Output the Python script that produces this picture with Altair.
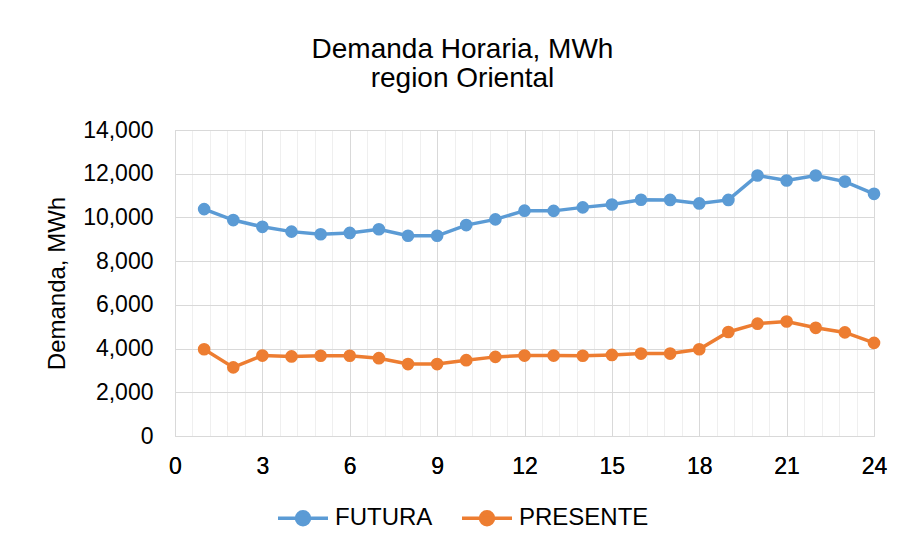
import altair as alt
import pandas as pd

hours = list(range(1, 25))
futura = [10380, 9880, 9570, 9350, 9230, 9290, 9460, 9160, 9160, 9650, 9910, 10310,
          10300, 10460, 10590, 10810, 10800, 10640, 10800, 11920, 11690, 11920, 11640, 11080]
presente = [3970, 3140, 3680, 3640, 3670, 3670, 3560, 3290, 3290, 3470, 3620, 3680,
            3680, 3670, 3710, 3770, 3770, 3970, 4760, 5140, 5240, 4950, 4740, 4260]
series = ["FUTURA", "PRESENTE"]
colors = ["#5B9BD5", "#ED7D31"]
x_ticks = list(range(0, 25, 3))
y_ticks = list(range(0, 14001, 2000))
minor_ticks = [round(i * 0.6, 1) for i in range(41) if i % 5]

df = pd.DataFrame({
    "hora": hours * 2,
    "demanda": futura + presente,
    "serie": [series[0]] * 24 + [series[1]] * 24,
})

FONT = "Liberation Sans"
xscale = alt.Scale(domain=[0, 24], nice=False, zero=False)
yscale = alt.Scale(domain=[0, 14000], nice=False)

yaxis = alt.Axis(values=y_ticks, format=",d", grid=True, gridColor="#D9D9D9", domain=False,
                 ticks=False, labelPadding=22, labelFontSize=23, labelFont=FONT, labelColor="#000000",
                 title="Demanda, MWh", titleFont=FONT, titleFontSize=24, titleFontWeight="normal",
                 titleColor="#000000", titleX=-118, titleY=153, titleAngle=270, titleBaseline="middle",
                 titleAlign="center")

legend_path = "M-1,0L1,0M-0.26,0A0.26,0.26,0,1,0,0.26,0A0.26,0.26,0,1,0,-0.26,0Z"
legend = alt.Legend(title=None, orient="none", direction="horizontal", legendX=101, legendY=361,
                    symbolType=legend_path, symbolSize=2500, symbolStrokeWidth=3.5,
                    symbolOpacity=1,
                    labelFont=FONT, labelFontSize=24, labelColor="#000000", labelOffset=5,
                    columnPadding=22)
color = alt.Color("serie:N", scale=alt.Scale(domain=series, range=colors), legend=legend)

base = alt.Chart(df)

minor = base.mark_line(strokeOpacity=0).encode(
    x=alt.X("hora:Q", scale=xscale,
            axis=alt.Axis(values=minor_ticks, grid=True, gridColor="#EFEFEF", labels=False,
                          ticks=False, domain=False, orient="top", title=None)),
    y=alt.Y("demanda:Q", scale=yscale, axis=yaxis),
    detail="serie:N",
)

xaxis = alt.Axis(values=x_ticks, grid=True, gridColor="#D9D9D9", domain=False, ticks=False,
                 labelPadding=19, labelFontSize=23, labelFont=FONT, labelColor="#000000",
                 title=None, orient="bottom", labelFlush=False)

lines = base.mark_line(strokeWidth=3.5).encode(
    x=alt.X("hora:Q", scale=xscale, axis=xaxis),
    y=alt.Y("demanda:Q", scale=yscale, axis=yaxis),
    color=color,
)
points = base.mark_circle(size=160, opacity=1).encode(
    x=alt.X("hora:Q", scale=xscale, axis=xaxis),
    y=alt.Y("demanda:Q", scale=yscale, axis=yaxis),
    color=color,
)

chart = alt.layer(minor, lines, points).resolve_axis(x="independent").properties(
    width=699, height=306,
    autosize=alt.AutoSizeParams(type="none"),
    padding={"left": 167, "top": 122, "right": 20, "bottom": 100},
    title=alt.TitleParams(text=["Demanda Horaria, MWh", "region Oriental"], font=FONT,
                          fontSize=28, fontWeight="normal", color="#000000", anchor="middle",
                          lineHeight=29, dx=-62, offset=26),
).configure_view(stroke=None).configure(background="#FFFFFF")

chart.save("out.html", embed_options={"renderer": "svg", "actions": False})
